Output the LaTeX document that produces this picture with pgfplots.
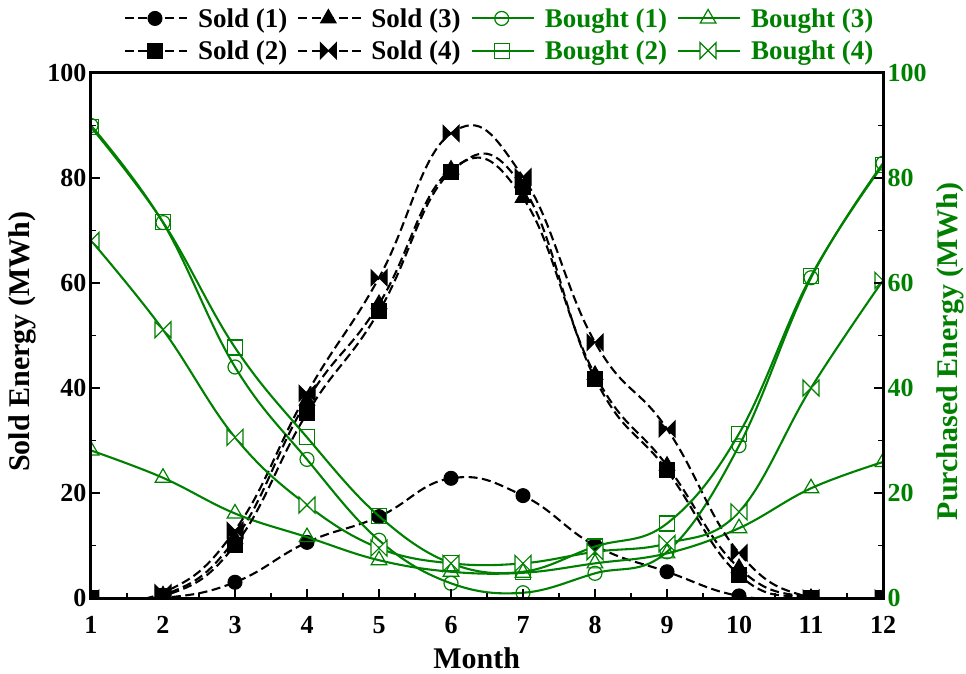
\documentclass[border=0pt]{standalone}
\usepackage{fontspec}
\setmainfont{Liberation Serif}
\usepackage{pgfplots}
\pgfplotsset{compat=1.18}
\definecolor{bgreen}{RGB}{0,128,0}

% horizontal bow-tie mark (two triangles meeting at the centre)
\pgfdeclareplotmark{bowtie}{%
  \pgfpathmoveto{\pgfpoint{-\pgfplotmarksize}{-\pgfplotmarksize}}%
  \pgfpathlineto{\pgfpoint{\pgfplotmarksize}{\pgfplotmarksize}}%
  \pgfpathlineto{\pgfpoint{\pgfplotmarksize}{-\pgfplotmarksize}}%
  \pgfpathlineto{\pgfpoint{-\pgfplotmarksize}{\pgfplotmarksize}}%
  \pgfpathclose
  \pgfusepathqfillstroke}

\newcommand{\legtext}[1]{{\fontsize{27}{32}\selectfont\bfseries #1}}

\pgfplotsset{
  sold/.style={black, line width=2.1pt, dash pattern=on 9pt off 4.5pt, smooth, tension=0.75,
    mark options={solid, fill=black, line width=1pt}},
  bought/.style={bgreen, line width=2.1pt, smooth, tension=0.65,
    mark options={solid, fill=white, line width=1.2pt}},
}

\begin{document}
\begin{tikzpicture}
\begin{axis}[
  scale only axis, width=792pt, height=525pt,
  xmin=1, xmax=12, ymin=0, ymax=100,
  xtick={1,...,12}, ytick={0,20,...,100},
  minor x tick num=1, minor y tick num=1,
  xtick pos=bottom, ytick pos=left, tick align=inside,
  major tick length=9pt, minor tick length=5pt,
  every tick/.style={black, line width=1.2pt},
  axis line style={line width=3pt},
  clip marker paths=true, axis on top,
  /pgf/number format/assume math mode=true,
  tick label style={font=\fontsize{26}{30}\selectfont\bfseries},
  xticklabel style={yshift=-15pt},
  yticklabel style={xshift=-1pt},
  xlabel={Month}, ylabel={Sold Energy (MWh)},
  label style={font=\fontsize{30}{36}\selectfont\bfseries},
  xlabel style={at={(axis description cs:0.487,-0.114)}, anchor=center},
  ylabel style={at={(axis description cs:-0.087,0.488)}, anchor=center},
  legend columns=4,
  legend cell align=left,
  legend style={draw=none, fill=none, at={(axis description cs:0.516,1)},
    anchor=south, yshift=11pt, inner sep=0pt, row sep=10pt,
    nodes={inner xsep=2pt, inner ysep=1pt},
    /tikz/every even column/.append style={column sep=8pt},
    /tikz/every odd column/.append style={column sep=8pt}},
  legend image code/.code={%
    \draw[mark repeat=2, mark phase=2] plot coordinates {(0pt,0pt) (30pt,0pt) (62pt,0pt)};},
]
% row 1 of the legend
\addplot[sold, mark=*, mark size=7pt] coordinates {
  (1,0) (2,0) (3,3) (4,10.6) (5,15.5) (6,22.8) (7,19.5) (8,10) (9,5) (10,0.4) (11,0) (12,0)};
\addlegendentry{\legtext{Sold (1)}}
\addplot[sold, mark=triangle*, mark size=9pt] coordinates {
  (1,0) (2,0.5) (3,11.2) (4,37.6) (5,56) (6,81.6) (7,76.2) (8,42.5) (9,25.2) (10,5.7) (11,0) (12,0)};
\addlegendentry{\legtext{Sold (3)}}
\addplot[bought, mark=o, mark size=7pt] coordinates {
  (1,90) (2,71.5) (3,44) (4,26.4) (5,11) (6,2.8) (7,1.0) (8,4.7) (9,8.8) (10,29) (11,61) (12,82.8)};
\addlegendentry{\legtext{\textcolor{bgreen}{Bought (1)}}}
\addplot[bought, mark=triangle, mark size=9pt] coordinates {
  (1,28.1) (2,22.9) (3,16.1) (4,11.6) (5,7.2) (6,5.0) (7,4.8) (8,6.6) (9,8.5) (10,13.3) (11,20.9) (12,25.9)};
\addlegendentry{\legtext{\textcolor{bgreen}{Bought (3)}}}
% row 2 of the legend
\addplot[sold, mark=square*, mark size=7.5pt] coordinates {
  (1,0) (2,0.3) (3,10.1) (4,35.2) (5,54.6) (6,81.2) (7,78.2) (8,41.8) (9,24.3) (10,4.4) (11,0) (12,0)};
\addlegendentry{\legtext{Sold (2)}}
\addplot[sold, mark=bowtie, mark size=8pt] coordinates {
  (1,0) (2,1) (3,12.9) (4,39) (5,61) (6,88.5) (7,80.2) (8,48.7) (9,32.2) (10,8.6) (11,0) (12,0)};
\addlegendentry{\legtext{Sold (4)}}
\addplot[bought, mark=square, mark size=7.5pt] coordinates {
  (1,89.7) (2,71.6) (3,47.7) (4,30.6) (5,15.6) (6,6.6) (7,5.0) (8,9.8) (9,14.2) (10,31.3) (11,61.3) (12,82.5)};
\addlegendentry{\legtext{\textcolor{bgreen}{Bought (2)}}}
\addplot[bought, mark=bowtie, mark size=8pt] coordinates {
  (1,68.1) (2,51.1) (3,30.6) (4,17.7) (5,9.5) (6,6.6) (7,6.6) (8,8.8) (9,10.4) (10,16.4) (11,40) (12,60.5)};
\addlegendentry{\legtext{\textcolor{bgreen}{Bought (4)}}}
\end{axis}

% right-hand scale for the purchased energy
\begin{axis}[
  scale only axis, width=792pt, height=525pt,
  xmin=1, xmax=12, ymin=0, ymax=100,
  hide x axis,
  axis y line*=right,
  ytick={0,20,...,100}, minor y tick num=1, tick align=inside,
  major tick length=9pt, minor tick length=5pt,
  every tick/.style={black, line width=1.2pt},
  axis line style={line width=3pt},
  /pgf/number format/assume math mode=true,
  yticklabel style={font=\fontsize{26}{30}\selectfont\bfseries, text=bgreen, xshift=1pt},
  ylabel={Purchased Energy (MWh)},
  ylabel style={font=\fontsize{30}{36}\selectfont\bfseries, text=bgreen,
    at={(axis description cs:1.085,0.47)}, anchor=center},
]
\end{axis}

\pgfresetboundingbox
\path[use as bounding box] (-91pt,-75pt) rectangle (875pt,598pt);
\end{tikzpicture}
\end{document}
